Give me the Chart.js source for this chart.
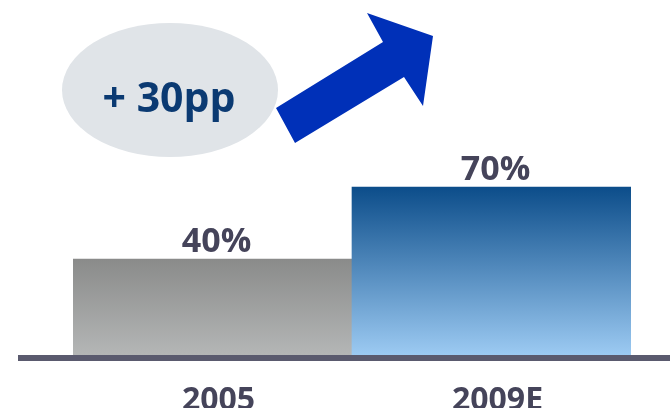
<!DOCTYPE html>
<html>
<head>
<meta charset="utf-8">
<script src="https://cdn.jsdelivr.net/npm/chart.js@4/dist/chart.umd.min.js"></script>
<style>
  html, body { margin: 0; padding: 0; background: #fff; }
  #wrap { width: 670px; height: 408px; }
</style>
</head>
<body>
<div id="wrap"><canvas id="chart" width="670" height="408"></canvas></div>
<script>
const categories = ['2005', '2009E'];
const shareValues = [40, 70];
const changeLabel = '+ 30pp';

const TEXT_COLOR = '#45445a';
const FONT = '"Open Sans", "Noto Sans", sans-serif';

// top/bottom gradient stops per bar
const gradientStops = [
  ['#8a8b8a', '#b4b6b6'],
  ['#0c4d8a', '#9ccaf2'],
];

function barFill(ctx) {
  const area = ctx.chart.chartArea;
  if (!area) return gradientStops[ctx.dataIndex][0];
  const y = ctx.chart.scales.y;
  const top = y.getPixelForValue(shareValues[ctx.dataIndex]);
  const bottom = y.getPixelForValue(0);
  const g = ctx.chart.ctx.createLinearGradient(0, top, 0, bottom);
  g.addColorStop(0, gradientStops[ctx.dataIndex][0]);
  g.addColorStop(1, gradientStops[ctx.dataIndex][1]);
  return g;
}

const decorations = {
  id: 'decorations',
  beforeDatasetsDraw(chart) {
    const { ctx } = chart;
    ctx.save();
    // bubble
    ctx.fillStyle = '#e0e4e8';
    ctx.beginPath();
    ctx.ellipse(170, 90, 108, 67, 0, 0, Math.PI * 2);
    ctx.fill();
    ctx.fillStyle = '#0b3a72';
    ctx.font = 'bold 41px ' + FONT;
    ctx.textAlign = 'center';
    ctx.textBaseline = 'middle';
    ctx.fillText(changeLabel, 169, 100);
    // arrow
    ctx.fillStyle = '#0030b8';
    ctx.beginPath();
    ctx.moveTo(276, 108);
    ctx.lineTo(383, 42);
    ctx.lineTo(367, 13);
    ctx.lineTo(433, 36);
    ctx.lineTo(423, 106);
    ctx.lineTo(404, 77);
    ctx.lineTo(295, 143);
    ctx.closePath();
    ctx.fill();
    ctx.restore();
  },
  afterDatasetsDraw(chart) {
    const { ctx } = chart;
    const meta = chart.getDatasetMeta(0);
    ctx.save();
    ctx.fillStyle = TEXT_COLOR;
    ctx.font = 'bold 34px ' + FONT;
    ctx.textAlign = 'center';
    ctx.textBaseline = 'alphabetic';
    meta.data.forEach((bar, i) => {
      ctx.fillText(shareValues[i] + '%', bar.x + 4, bar.y - 7);
    });
    // baseline
    const y0 = chart.scales.y.getPixelForValue(0);
    ctx.fillStyle = '#5a5a6e';
    ctx.fillRect(18, y0, chart.width - 18, 6);
    ctx.restore();
  }
};

new Chart(document.getElementById('chart'), {
  type: 'bar',
  data: {
    labels: categories,
    datasets: [{
      data: shareValues,
      backgroundColor: barFill,
      borderWidth: 0,
      categoryPercentage: 1,
      barPercentage: 1,
    }],
  },
  options: {
    responsive: false,
    animation: false,
    layout: { padding: { left: 73, right: 39, top: 115, bottom: 0 } },
    plugins: { legend: { display: false }, tooltip: { enabled: false } },
    scales: {
      x: {
        grid: { display: false },
        border: { display: false },
        ticks: {
          color: TEXT_COLOR,
          font: { family: FONT, size: 32, weight: 'bold' },
          padding: 19,
          labelOffset: 6,
        },
        afterFit(scale) { scale.height = 53; },
      },
      y: {
        display: false,
        min: 0,
        max: 100,
      },
    },
  },
  plugins: [decorations],
});
</script>
</body>
</html>
